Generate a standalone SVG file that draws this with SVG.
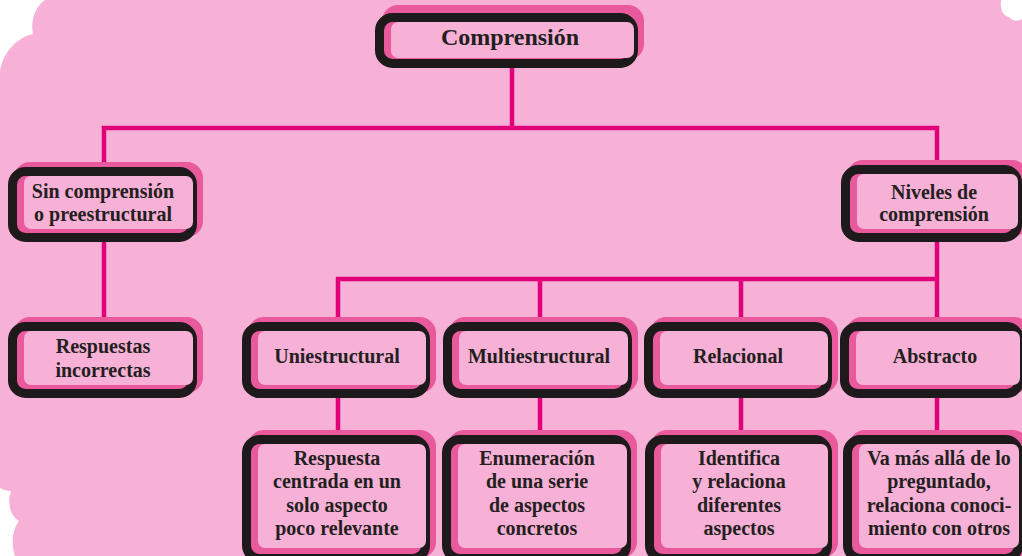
<svg xmlns="http://www.w3.org/2000/svg" width="1022" height="556" viewBox="0 0 1022 556">
<defs>
<style>
.bg{fill:#F7B0D6}
.sh{fill:#E85A9C}
.bx{fill:#E85A9C;stroke:#1E1A1C;stroke-width:9}
.in{fill:#F7B0D6}
.cn{fill:none;stroke:#E2007A;stroke-width:4.5}
text{font-family:"Liberation Serif","Times New Roman",serif;font-weight:bold;font-size:20px;fill:#231F20;text-anchor:middle}
.big{font-size:24px}
</style>
</defs>
<rect width="1022" height="556" fill="#FFFFFF"/>
<path class="bg" d="M45,0 L1001,0 C1000,10 1003,16 1009,17 C1013,22 1018,21 1022,19 L1022,556 L15,556 C11,545 12,530 19,521 C10,516 7,502 11,491 C7,491 3,490 0,488 L0,72 C2,55 15,38 33,34 C30,20 36,6 45,0 Z"/>
<g id="connectors">
<path class="cn" d="M512,68 V128"/>
<path class="cn" d="M104,167 V128 H937 V165"/>
<path class="cn" d="M104,242 V322"/>
<path class="cn" d="M937,242 V279"/>
<path class="cn" d="M338,322 V279 H937"/>
<path class="cn" d="M540,279 V322"/>
<path class="cn" d="M741,279 V322"/>
<path class="cn" d="M937,279 V322"/>
<path class="cn" d="M338,398 V435"/>
<path class="cn" d="M540,398 V435"/>
<path class="cn" d="M741,398 V435"/>
<path class="cn" d="M937,398 V435"/>
</g>
<g id="n-comprension">
<rect class="sh" x="382" y="5" width="262" height="55" rx="16"/>
<rect class="bx" x="379.5" y="17.5" width="254" height="46" rx="13"/>
<rect class="in" x="391" y="22" width="243" height="36" rx="7"/>
<text class="big" x="510" y="45">Comprensión</text>
</g>
<g id="n-sin">
<rect class="sh" x="14" y="162" width="189" height="75" rx="16"/>
<rect class="bx" x="12.5" y="171.5" width="180" height="66" rx="13"/>
<rect class="in" x="24" y="176" width="169" height="53" rx="7"/>
<text x="103" y="198">Sin comprensión</text>
<text x="103" y="221">o preestructural</text>
</g>
<g id="n-niveles">
<rect class="sh" x="847" y="160" width="181" height="77" rx="16"/>
<rect class="bx" x="845.5" y="169.5" width="172" height="68" rx="13"/>
<rect class="in" x="857" y="174" width="161" height="55" rx="7"/>
<text x="934" y="199">Niveles de</text>
<text x="934" y="221">comprensión</text>
</g>
<g id="n-respuestas">
<rect class="sh" x="14" y="317" width="189" height="76" rx="16"/>
<rect class="bx" x="12.5" y="326.5" width="180" height="67" rx="13"/>
<rect class="in" x="24" y="331" width="169" height="54" rx="7"/>
<text x="103" y="353">Respuestas</text>
<text x="103" y="377">incorrectas</text>
</g>
<g id="n-uni">
<rect class="sh" x="248" y="317" width="188" height="76" rx="16"/>
<rect class="bx" x="246.5" y="326.5" width="179" height="67" rx="13"/>
<rect class="in" x="258" y="331" width="168" height="54" rx="7"/>
<text x="337" y="363">Uniestructural</text>
</g>
<g id="n-multi">
<rect class="sh" x="449" y="317" width="189" height="76" rx="16"/>
<rect class="bx" x="447.5" y="326.5" width="180" height="67" rx="13"/>
<rect class="in" x="459" y="331" width="169" height="54" rx="7"/>
<text x="539" y="363">Multiestructural</text>
</g>
<g id="n-rel">
<rect class="sh" x="650" y="317" width="188" height="76" rx="16"/>
<rect class="bx" x="648.5" y="326.5" width="179" height="67" rx="13"/>
<rect class="in" x="660" y="331" width="168" height="54" rx="7"/>
<text x="738" y="363">Relacional</text>
</g>
<g id="n-abs">
<rect class="sh" x="846" y="317" width="184" height="76" rx="16"/>
<rect class="bx" x="844.5" y="326.5" width="175" height="67" rx="13"/>
<rect class="in" x="856" y="331" width="164" height="54" rx="7"/>
<text x="935" y="363">Abstracto</text>
</g>
<g id="n-uni-desc">
<rect class="sh" x="248" y="430" width="188" height="128" rx="16"/>
<rect class="bx" x="246.5" y="439.5" width="179" height="119" rx="13"/>
<rect class="in" x="258" y="444" width="168" height="104" rx="7"/>
<text x="337" y="465">Respuesta</text>
<text x="337" y="488">centrada en un</text>
<text x="337" y="512">solo aspecto</text>
<text x="337" y="535">poco relevante</text>
</g>
<g id="n-multi-desc">
<rect class="sh" x="448" y="430" width="189" height="128" rx="16"/>
<rect class="bx" x="446.5" y="439.5" width="180" height="119" rx="13"/>
<rect class="in" x="458" y="444" width="169" height="104" rx="7"/>
<text x="537" y="465">Enumeración</text>
<text x="537" y="488">de una serie</text>
<text x="537" y="512">de aspectos</text>
<text x="537" y="535">concretos</text>
</g>
<g id="n-rel-desc">
<rect class="sh" x="651" y="430" width="187" height="128" rx="16"/>
<rect class="bx" x="649.5" y="439.5" width="178" height="119" rx="13"/>
<rect class="in" x="661" y="444" width="167" height="104" rx="7"/>
<text x="739" y="465">Identifica</text>
<text x="739" y="488">y relaciona</text>
<text x="739" y="512">diferentes</text>
<text x="739" y="535">aspectos</text>
</g>
<g id="n-abs-desc">
<rect class="sh" x="849" y="430" width="180" height="128" rx="16"/>
<rect class="bx" x="847.5" y="439.5" width="171" height="119" rx="13"/>
<rect class="in" x="859" y="444" width="160" height="104" rx="7"/>
<text x="939" y="465">Va más allá de lo</text>
<text x="939" y="488">preguntado,</text>
<text x="939" y="512">relaciona conoci-</text>
<text x="939" y="535">miento con otros</text>
</g>
</svg>
